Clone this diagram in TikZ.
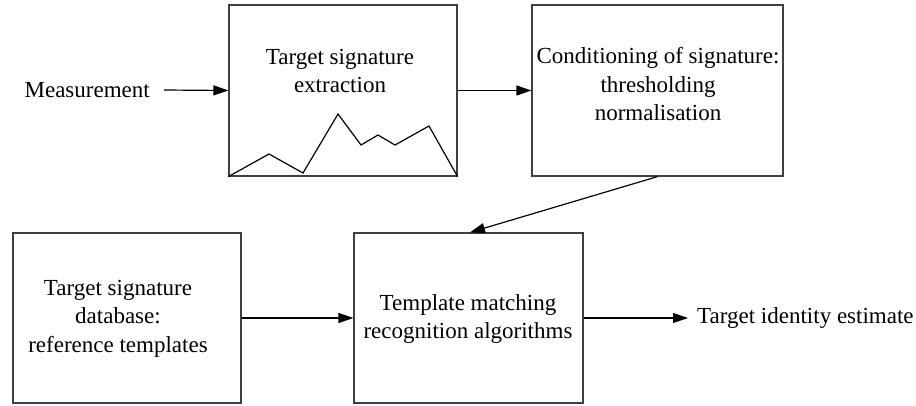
\documentclass[tikz,border=0pt]{standalone}
\usepackage{fontspec}
\setmainfont{Liberation Serif}
\usetikzlibrary{arrows.meta}
\begin{document}
\begin{tikzpicture}[x=1pt,y=-1pt,
  box/.style={draw=black!75, line width=1.2pt, inner sep=0pt},
  txt/.style={align=center, inner sep=0pt, font=\fontsize{23}{28.5}\selectfont},
  arr/.style={line width=1.2pt, -{Triangle[length=15pt,width=10pt]}}]
\useasboundingbox (0,0) rectangle (916,405);
% blocks
\node[box, minimum width=228pt, minimum height=171pt] (ext) at (343,90.5) {};
\node[box, minimum width=251pt, minimum height=171pt] (cond) at (657.5,90.5) {};
\node[box, minimum width=228pt, minimum height=170pt] (db) at (127,318) {};
\node[box, minimum width=229pt, minimum height=170pt] (match) at (468.5,318) {};
% block captions
\node[txt] (extT) at (340,71) {Target signature\\extraction};
\node[txt] (condT) at (658,84.5) {Conditioning of signature:\\thresholding\\normalisation};
\node[txt] (dbT) at (118,318.5) {Target signature\\database:\\reference templates};
\node[txt] (matchT) at (468,319) {Template matching\\recognition algorithms};
% free labels
\node[txt, anchor=east] (meas) at (150,90) {Measurement};
\node[txt, anchor=west] (out) at (697,318) {Target identity estimate};
% sketch of a signature inside the extraction block
\draw[line width=1.2pt, line join=miter] (ext.south west) -- (269,154) -- (303,173) -- (338,114)
  -- (361,145) -- (378,135) -- (395,145) -- (429,126) -- (ext.south east);
% connectors
\draw[arr] ([xshift=14pt]meas.east) -- (ext.west);
\draw[arr] (ext.east) -- (cond.west);
\draw[arr] (cond.south) -- ([xshift=1.5pt]match.north);
\draw[arr] (db.east) -- (match.west);
\draw[arr] (match.east) -- ([xshift=-9pt]out.west);
\end{tikzpicture}
\end{document}
